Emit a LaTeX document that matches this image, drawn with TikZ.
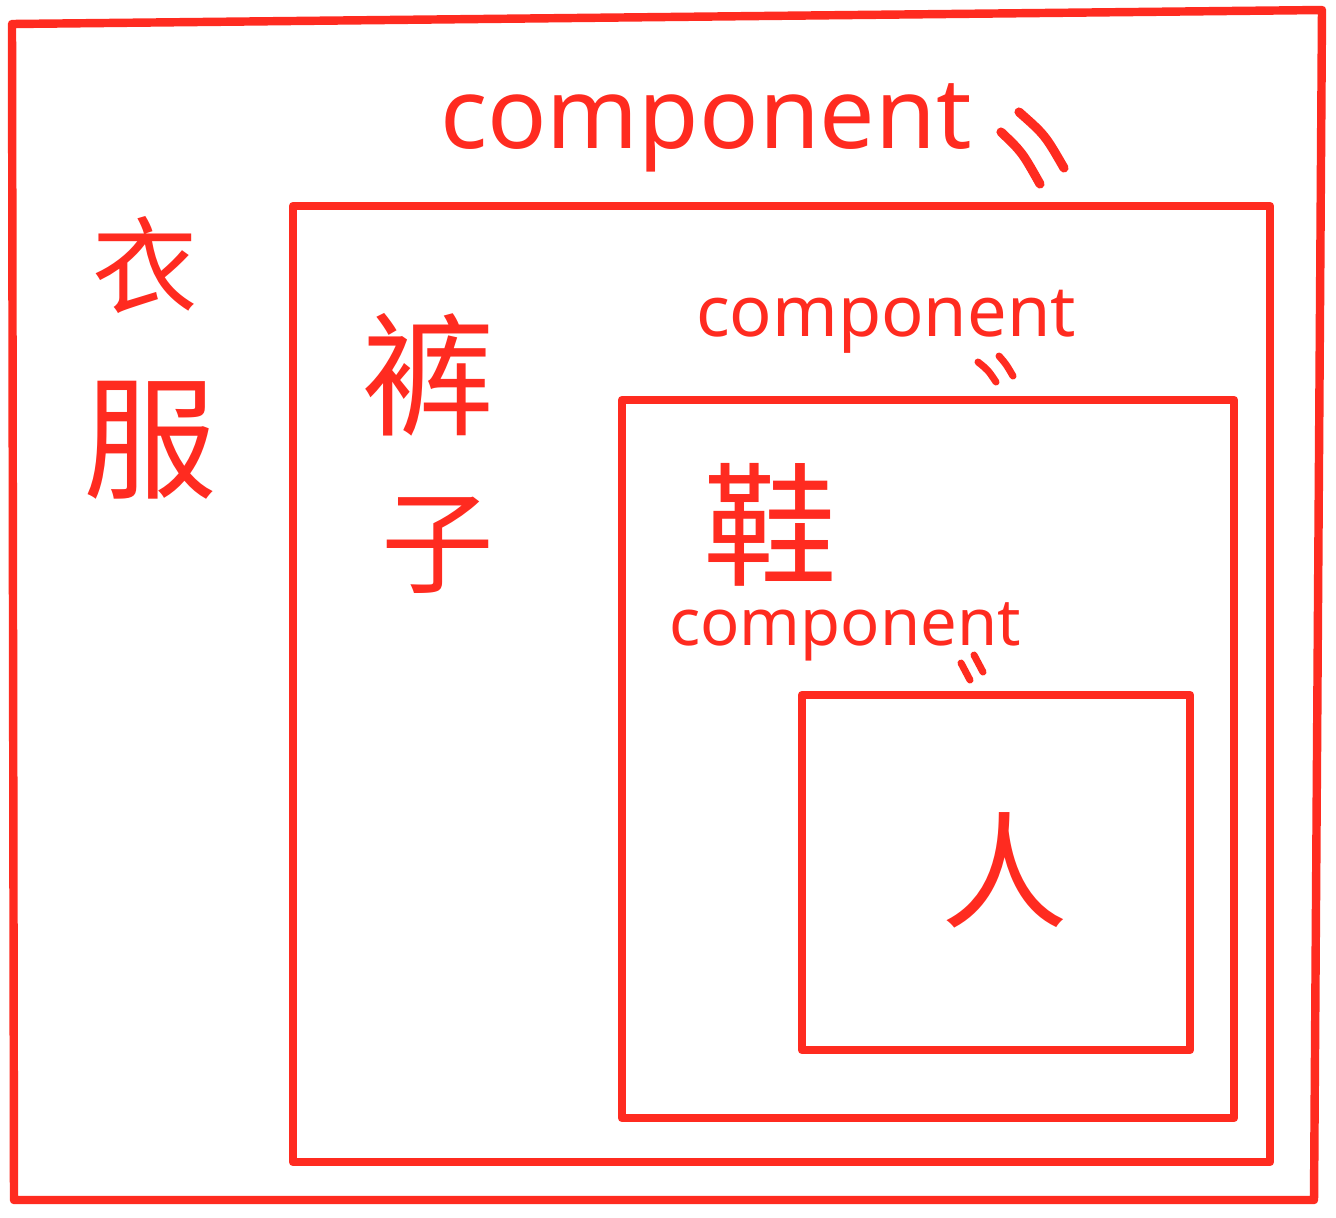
\documentclass[tikz,border=0pt]{standalone}
\usepackage{fontspec}
\setmainfont{Noto Sans}
\newfontfamily\cjk{Noto Sans CJK SC}
\definecolor{pen}{HTML}{FF2B20}
\begin{document}
\begin{tikzpicture}[x=0.01cm,y=-0.01cm,
  box/.style={draw=pen,line width=2.4pt,line join=round,line cap=round},
  tick/.style={draw=pen,line width=#1,line cap=round},
  han/.style={text=pen,font=\cjk\fontsize{#1}{#1}\selectfont,inner sep=0pt},
  lbl/.style={text=pen,font=\fontsize{#1}{#1}\selectfont,inner sep=0pt}]
\useasboundingbox (0,0) rectangle (1336,1217);
% boxes
\draw[box] (12,24) -- (1322,10) -- (1314,1200) -- (14,1200) -- cycle;
\draw[box] (293,206) rectangle (1270,1162);
\draw[box] (622,400) rectangle (1234,1118);
\draw[box] (802,695) rectangle (1190,1050);
% labels
\node[lbl=28] (c1) at (706,128) {component};
\node[lbl=20] (c2) at (886,322) {component};
\node[lbl=18.5] (c3) at (845,632) {component};
% equality marks
\draw[tick=2.6pt] (1001,132) .. controls (1022,152) .. (1040,184);
\draw[tick=2.6pt] (1019,112) .. controls (1045,135) .. (1064,168);
\draw[tick=2pt] (978,362) .. controls (988,370) .. (996,382);
\draw[tick=2pt] (999,356) .. controls (1006,364) .. (1013,376);
\draw[tick=2pt] (961,663) -- (970,680);
\draw[tick=2pt] (974,655) -- (983,672);
% chinese
\node[han=30] (yi) at (145,265) {衣};
\node[han=38] (fu) at (150,440) {服};
\node[han=38] (ku) at (428,375) {裤};
\node[han=32] (zi) at (438,545) {子};
\node[han=38] (xie) at (770,525) {鞋};
\node[han=36] (ren) at (1005,870) {人};
\end{tikzpicture}
\end{document}
